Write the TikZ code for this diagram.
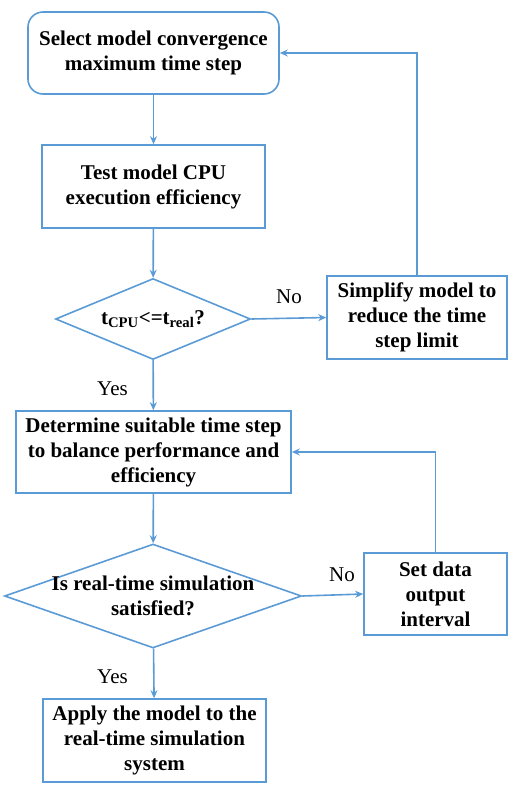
\documentclass[tikz,border=0pt]{standalone}
\usepackage{fontspec}
\setmainfont{Liberation Serif}
\usetikzlibrary{shapes.geometric,arrows.meta}
\definecolor{flowblue}{HTML}{5B9BD5}
\tikzset{
  block/.style={draw=flowblue, line width=1.6pt, align=center, inner sep=0pt,
    font=\bfseries\fontsize{21}{25}\selectfont},
  decision/.style={diamond, draw=flowblue, line width=1.6pt, inner sep=0pt},
  inside/.style={align=center, font=\bfseries\fontsize{21}{25}\selectfont},
  flow/.style={draw=flowblue, line width=1.6pt, -{Stealth[length=8pt,width=7pt]}},
  answer/.style={font=\fontsize{21}{25}\selectfont}
}
\begin{document}
\begin{tikzpicture}[x=1pt,y=-1pt]
  \useasboundingbox (0,0) rectangle (524,793);

  \node[block, rounded corners=15pt, minimum width=251, minimum height=82] (sel) at (153.5,53) {Select model convergence\\maximum time step};
  \node[block, minimum width=223, minimum height=83] (test) at (153.5,186.5) {Test model CPU\\execution efficiency};
  \node[decision, minimum width=195, minimum height=81] (cpu) at (153,319) {};
  \node[inside] (cputext) at (cpu) {t\textsubscript{CPU}<=t\textsubscript{real}?};
  \node[block, minimum width=180, minimum height=83] (simp) at (417,317.5) {Simplify model to\\reduce the time\\step limit};
  \node[block, minimum width=275, minimum height=82] (det) at (153.5,452) {Determine suitable time step\\to balance performance and\\efficiency};
  \node[decision, minimum width=297, minimum height=104] (rt) at (153,596) {};
  \node[inside] (rttext) at (rt) {Is real-time simulation\\satisfied?};
  \node[block, minimum width=143, minimum height=82] (outp) at (435.5,594) {Set data\\output\\interval};
  \node[block, minimum width=223, minimum height=83] (apply) at (154.5,740.5) {Apply the model to the\\real-time simulation\\system};

  \node[answer] (no1) at (289,297) {No};
  \node[answer] (yes1) at (112.5,389) {Yes};
  \node[answer] (no2) at (342,575) {No};
  \node[answer] (yes2) at (112.5,677) {Yes};

  \draw[flow] (sel) -- (test);
  \draw[flow] (test) -- (cpu);
  \draw[flow] (cpu.east) -- (simp.west);
  \draw[flow] (simp.north) |- (sel.east);
  \draw[flow] (cpu) -- (det);
  \draw[flow] (det) -- (rt);
  \draw[flow] (rt.east) -- (outp.west);
  \draw[flow] (outp.north) |- (det.east);
  \draw[flow] (rt) -- (apply);

\end{tikzpicture}
\end{document}
